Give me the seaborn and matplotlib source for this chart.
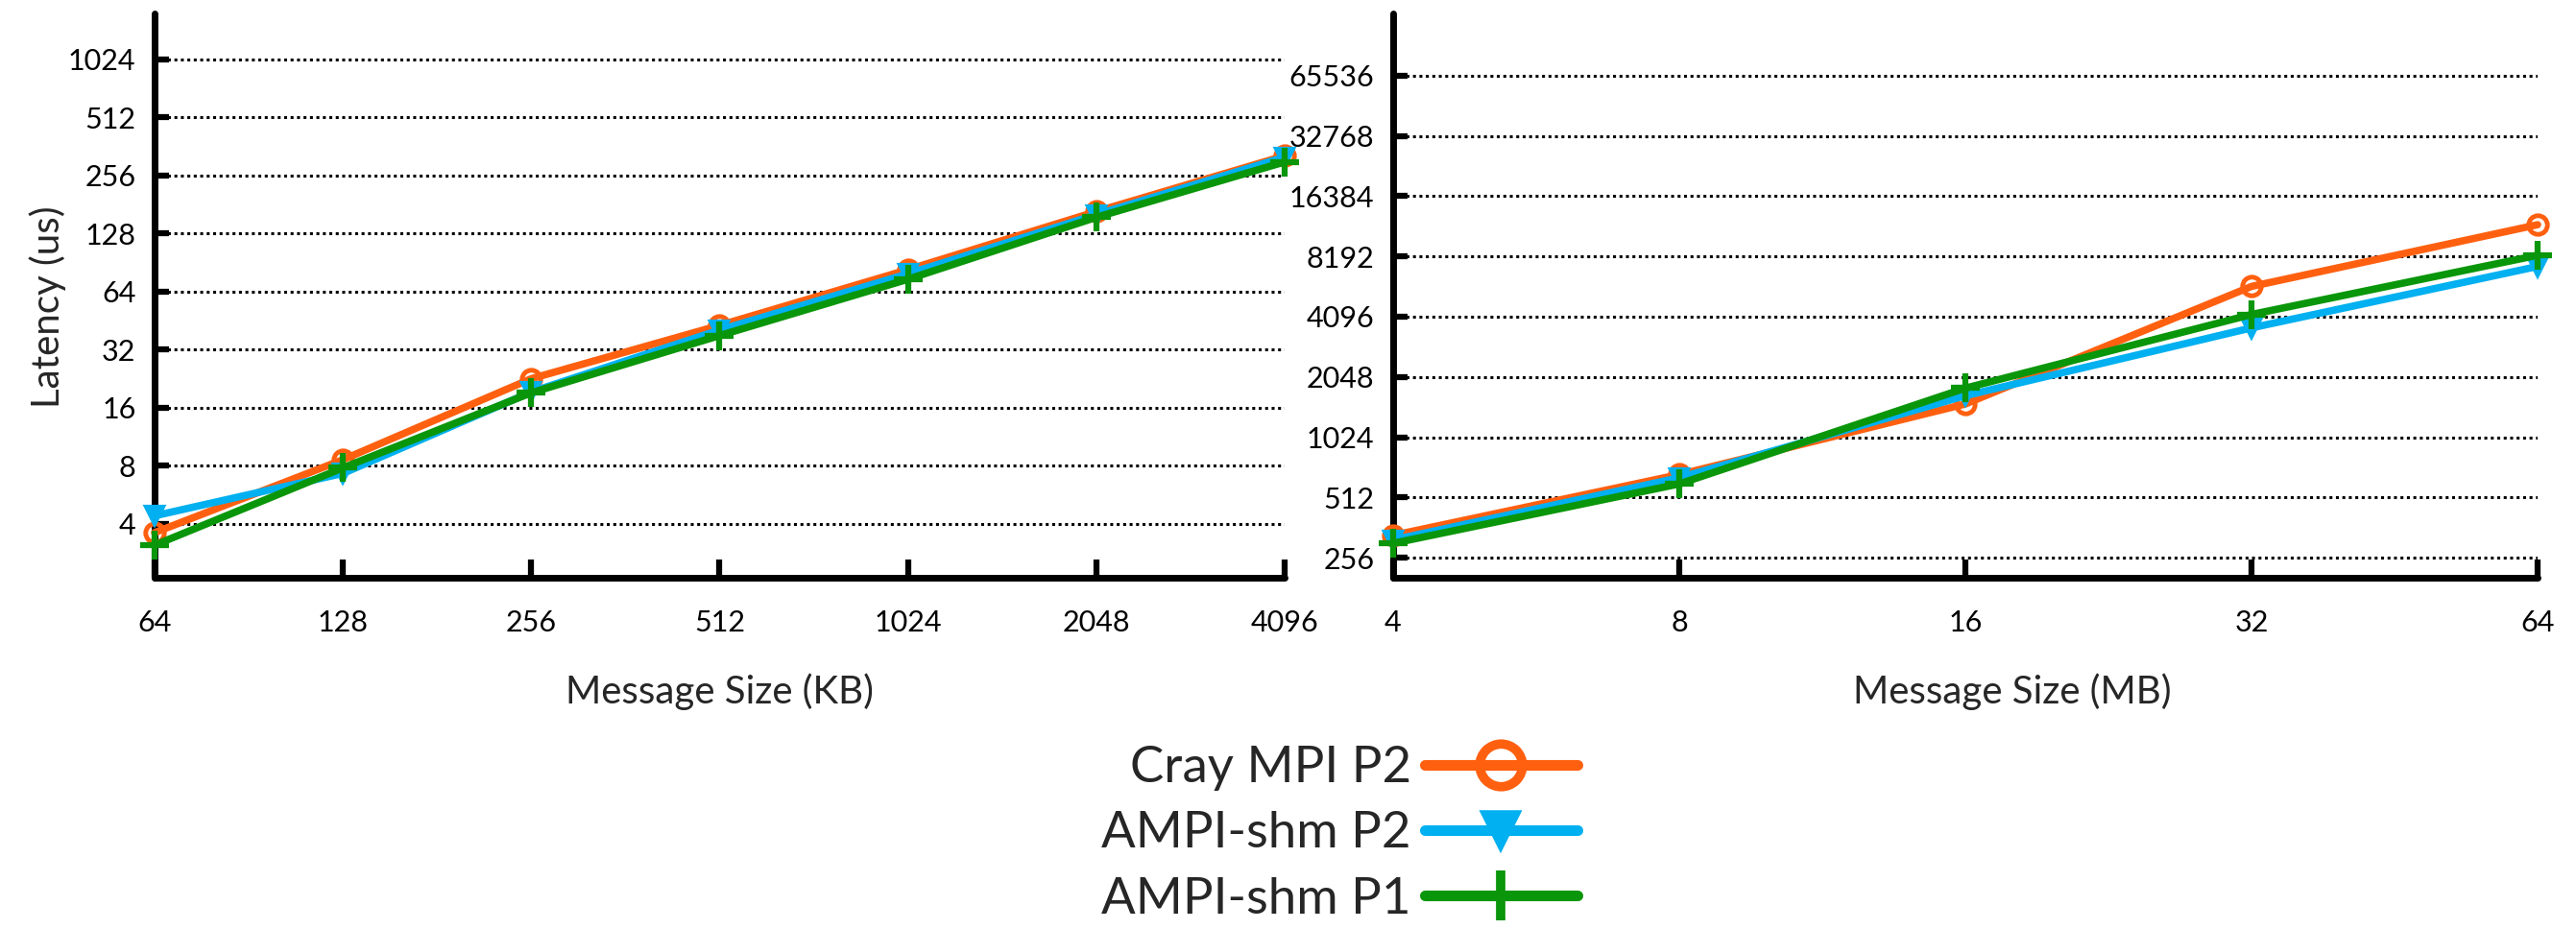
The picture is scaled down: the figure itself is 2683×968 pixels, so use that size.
import matplotlib
matplotlib.use("Agg")
import matplotlib.pyplot as plt
from matplotlib.lines import Line2D
from matplotlib.ticker import FixedLocator, FixedFormatter, NullLocator
import seaborn as sns

# ---- data ----
kb_sizes = [64, 128, 256, 512, 1024, 2048, 4096]
cray_kb = [3.6, 8.6, 22.6, 42.7, 83, 166, 323]
shm2_kb = [4.4, 7.3, 19.3, 40.4, 79, 160, 318]
shm1_kb = [3.1, 7.8, 19.1, 37.8, 74, 155, 300]

mb_sizes = [4, 8, 16, 32, 64]
cray_mb = [331, 666, 1500, 5800, 11800]
shm2_mb = [314, 642, 1650, 3600, 7300]
shm1_mb = [302, 598, 1800, 4200, 8300]

yticks_kb = [4, 8, 16, 32, 64, 128, 256, 512, 1024]
yticks_mb = [256, 512, 1024, 2048, 4096, 8192, 16384, 32768, 65536]

series_names = ["Cray MPI P2", "AMPI-shm P2", "AMPI-shm P1"]
colors = ["#FF6010", "#00B0F0", "#0A960A"]
markers = ["o", "v", "+"]

sns.set_style("ticks")
plt.rcParams["font.family"] = ["Lato", "DejaVu Sans"]
FONT = ["Lato", "DejaVu Sans"]
WEIGHT = "normal"

fig = plt.figure(figsize=(26.83, 9.68), dpi=100)
ax1 = fig.add_axes([0.060, 0.378, 0.4387, 0.6074])
ax2 = fig.add_axes([0.5408, 0.378, 0.4443, 0.6074])


def style_axes(ax, xs, yticks, ylim, xlabel, xlabel_x):
    ax.set_xscale("log", base=2)
    ax.set_yscale("log", base=2)
    ax.set_xlim(xs[0], xs[-1])
    ax.set_ylim(*ylim)
    ax.xaxis.set_major_locator(FixedLocator(xs))
    ax.xaxis.set_major_formatter(FixedFormatter([str(v) for v in xs]))
    ax.yaxis.set_major_locator(FixedLocator(yticks))
    ax.yaxis.set_major_formatter(FixedFormatter([str(v) for v in yticks]))
    ax.xaxis.set_minor_locator(NullLocator())
    ax.yaxis.set_minor_locator(NullLocator())
    for s in ["top", "right"]:
        ax.spines[s].set_visible(False)
    for s in ["left", "bottom"]:
        ax.spines[s].set_linewidth(5)
        ax.spines[s].set_color("black")
        ax.spines[s].set_capstyle("round")
    ax.tick_params(axis="x", direction="in", length=14, width=4.5, pad=24,
                   labelsize=22, colors="black")
    ax.tick_params(axis="y", direction="in", length=11, width=4.5, pad=14,
                   labelsize=22, colors="black")
    for lab in ax.get_xticklabels() + ax.get_yticklabels():
        lab.set_fontfamily(FONT)
        lab.set_fontweight(WEIGHT)
    ax.yaxis.grid(True, linestyle=(0, (1, 1.2)), color="black", linewidth=2.2)
    ax.xaxis.grid(False)
    ax.set_xlabel(xlabel, fontsize=29, family=FONT, fontweight=WEIGHT)
    ax.xaxis.set_label_coords(xlabel_x, -0.168)
    ax.set_facecolor("white")


def draw(ax, xs, ys_list):
    for ys, c, m in zip(ys_list, colors, markers):
        if m == "o":
            kw = dict(marker=m, markersize=14, markeredgewidth=3.5,
                      markerfacecolor="none")
        elif m == "v":
            kw = dict(marker=m, markersize=13, markeredgewidth=3,
                      markerfacecolor=c)
        else:
            kw = dict(marker=m, markersize=22, markeredgewidth=4.5,
                      markerfacecolor=c)
        sns.lineplot(x=xs, y=ys, ax=ax, color=c, linewidth=5.5,
                     markeredgecolor=c, clip_on=False, zorder=3, **kw)


style_axes(ax1, kb_sizes, yticks_kb, (2.1, 1762), "Message Size (KB)", 0.5)
style_axes(ax2, mb_sizes, yticks_mb, (203, 133900), "Message Size (MB)", 0.541)
draw(ax1, kb_sizes, [cray_kb, shm2_kb, shm1_kb])
draw(ax2, mb_sizes, [cray_mb, shm2_mb, shm1_mb])

ax1.set_ylabel("Latency (us)", fontsize=29, family=FONT, fontweight=WEIGHT)
ax1.yaxis.set_label_coords(-0.078, 0.48)
ax2.set_ylabel("")

handles = []
for c, m in zip(colors, markers):
    if m == "o":
        kw = dict(marker=m, markersize=32, markeredgewidth=7, markerfacecolor="none")
    elif m == "v":
        kw = dict(marker=m, markersize=26, markeredgewidth=4, markerfacecolor=c)
    else:
        kw = dict(marker=m, markersize=38, markeredgewidth=7, markerfacecolor=c)
    handles.append(Line2D([], [], color=c, linewidth=8, solid_capstyle="round",
                          markeredgecolor=c, **kw))

fig.legend(handles, series_names, loc="center right", bbox_to_anchor=(0.624, 0.1023),
           markerfirst=False, frameon=False, handlelength=3.0,
           handletextpad=0.27, labelspacing=0.4, borderpad=0.1,
           prop={"family": FONT, "size": 38, "weight": WEIGHT})

fig.savefig("out.png", dpi=100, facecolor="white")
